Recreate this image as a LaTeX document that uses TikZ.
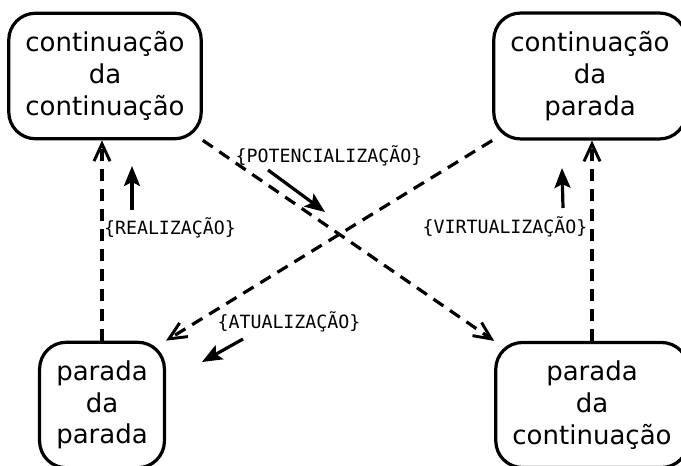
\documentclass[tikz,border=0pt]{standalone}
\usepackage{fontspec}
\setmainfont{DejaVu Sans}
\setmonofont{DejaVu Sans Mono}
\usepackage{tikz}
\usetikzlibrary{arrows.meta, positioning}

\begin{document}
\begin{tikzpicture}[
    x=0.75pt, y=0.75pt,
    % Styles
    statebox/.style={draw, line width=2.4pt, rounded corners=20pt, align=center, inner xsep=12.5pt, inner ysep=13.8pt, font=\fontsize{19.5}{23.8}\selectfont},
    dashedge/.style={line width=2.4pt, dash pattern=on 9pt off 6pt, -{Straight Barb[length=13pt, width=12pt, line width=2.2pt]}},
    forcearrow/.style={line width=2.4pt, -{Stealth[length=15pt, width=12pt, inset=3pt]}},
    forcelabel/.style={font=\ttfamily\fontsize{13.7}{16}\selectfont, inner sep=0pt}
]
    \clip (0,0) rectangle (681,465);

    % States
    \node[statebox] (contcont) at (105,389) {continuação\\da\\continuação};
    \node[statebox] (contpar) at (590,389) {continuação\\da\\parada};
    \node[statebox] (parpar) at (102,60) {parada\\da\\parada};
    \node[statebox] (parcont) at (592,60) {parada\\da\\continuação};

    % Dashed transitions
    \draw[dashedge] (parpar.north) -- (parpar.north |- contcont.south);
    \draw[dashedge] (parcont.north) -- (parcont.north |- contpar.south);
    \draw[dashedge] (contcont.south east) -- (parcont.north west);
    \draw[dashedge] (contpar.south west) -- (parpar.north east);

    % Forces
    \coordinate (pot1) at (268,295);
    \coordinate (pot2) at (325,253);
    \coordinate (real1) at (132,255);
    \coordinate (real2) at (132,299);
    \coordinate (virt1) at (563,257);
    \coordinate (virt2) at (562,297);
    \coordinate (atua1) at (243,126);
    \coordinate (atua2) at (202,103);
    \draw[forcearrow] (pot1) -- (pot2);
    \draw[forcearrow] (real1) -- (real2);
    \draw[forcearrow] (virt1) -- (virt2);
    \draw[forcearrow] (atua1) -- (atua2);

    % Labels
    \node[forcelabel] (potlabel) at (329,309) {\{POTENCIALIZAÇÃO\}};
    \node[forcelabel] (reallabel) at (170,237) {\{REALIZAÇÃO\}};
    \node[forcelabel] (virtlabel) at (505,238) {\{VIRTUALIZAÇÃO\}};
    \node[forcelabel] (atualabel) at (289,143) {\{ATUALIZAÇÃO\}};
\end{tikzpicture}
\end{document}
